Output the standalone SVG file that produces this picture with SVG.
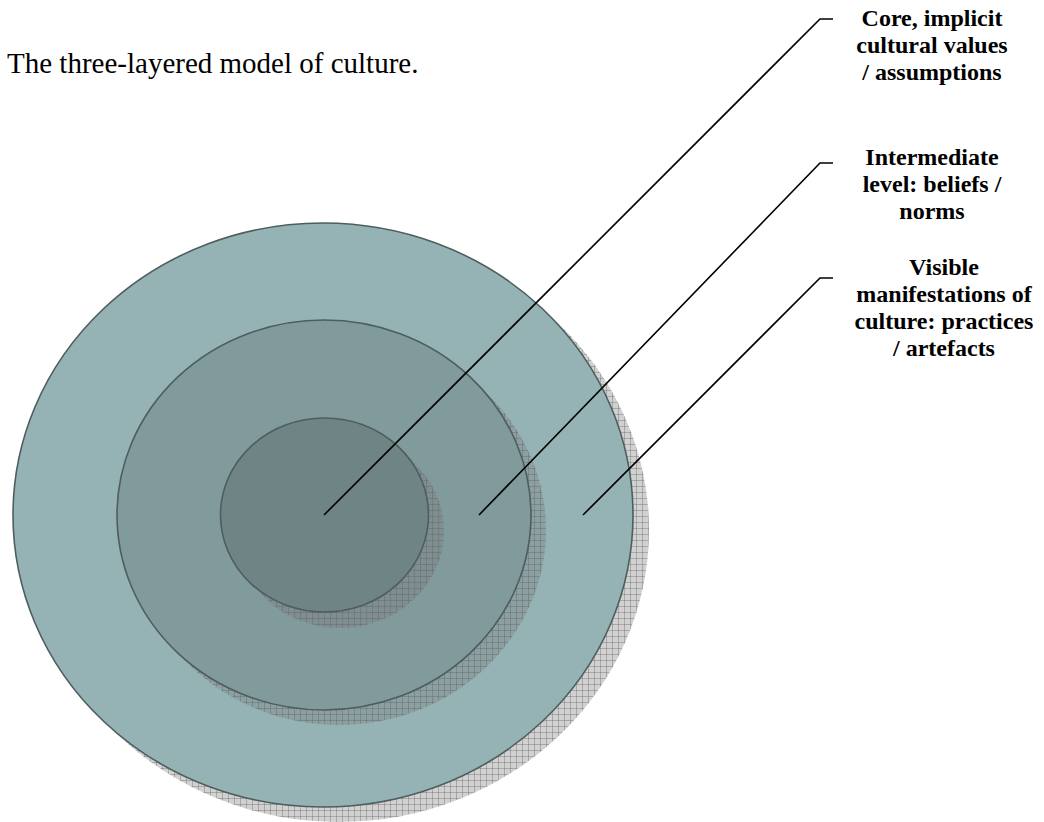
<svg xmlns="http://www.w3.org/2000/svg" width="1044" height="822" viewBox="0 0 1044 822">
<defs>
<pattern id="hatch" width="6" height="6" patternUnits="userSpaceOnUse">
<rect width="6" height="6" fill="#7a7a7a" fill-opacity="0.35"/>
<path d="M0 0.5H6M0.5 0V6" stroke="#5a5a5a" stroke-opacity="0.35" stroke-width="1" fill="none"/>
</pattern>
</defs>
<style>
.shadow{fill:url(#hatch);stroke:none}
.ring{stroke:#4e5d5e;stroke-width:1.6}
.outer{fill:#95b3b5}
.middle{fill:#819a9c}
.inner{fill:#6f8585}
.lead{fill:none;stroke:#000;stroke-width:1.6}
.lbl{font-family:"Liberation Serif","Times New Roman",serif;font-weight:bold;font-size:24px;fill:#000;text-anchor:middle}
.title{font-family:"Liberation Serif","Times New Roman",serif;font-size:29px;fill:#000}
</style>
<rect width="1044" height="822" fill="#ffffff"/>
<g id="title"><text class="title" x="7" y="73">The three-layered model of culture.</text></g>
<g id="node-outer">
<ellipse class="shadow" cx="339" cy="530" rx="310" ry="292"/>
<ellipse class="ring outer" cx="323" cy="515" rx="310" ry="292"/>
</g>
<g id="node-middle">
<ellipse class="shadow" cx="339" cy="530" rx="207" ry="195"/>
<ellipse class="ring middle" cx="324" cy="515" rx="207" ry="195"/>
</g>
<g id="node-inner">
<ellipse class="shadow" cx="340" cy="531" rx="104" ry="97"/>
<ellipse class="ring inner" cx="324.5" cy="515" rx="104" ry="97"/>
</g>
<g id="connectors">
<polyline class="lead" points="324,515 820,19 833,19"/>
<polyline class="lead" points="479,515 820,163 833,163"/>
<polyline class="lead" points="583,515 820,278 833,278"/>
</g>
<g id="label-core">
<text class="lbl" x="932" y="26">Core, implicit</text>
<text class="lbl" x="932" y="53">cultural values</text>
<text class="lbl" x="932" y="80">/ assumptions</text>
</g>
<g id="label-intermediate">
<text class="lbl" x="932" y="165">Intermediate</text>
<text class="lbl" x="932" y="192">level: beliefs /</text>
<text class="lbl" x="932" y="219">norms</text>
</g>
<g id="label-visible">
<text class="lbl" x="944" y="275">Visible</text>
<text class="lbl" x="944" y="302">manifestations of</text>
<text class="lbl" x="944" y="329">culture: practices</text>
<text class="lbl" x="944" y="356">/ artefacts</text>
</g>
</svg>
